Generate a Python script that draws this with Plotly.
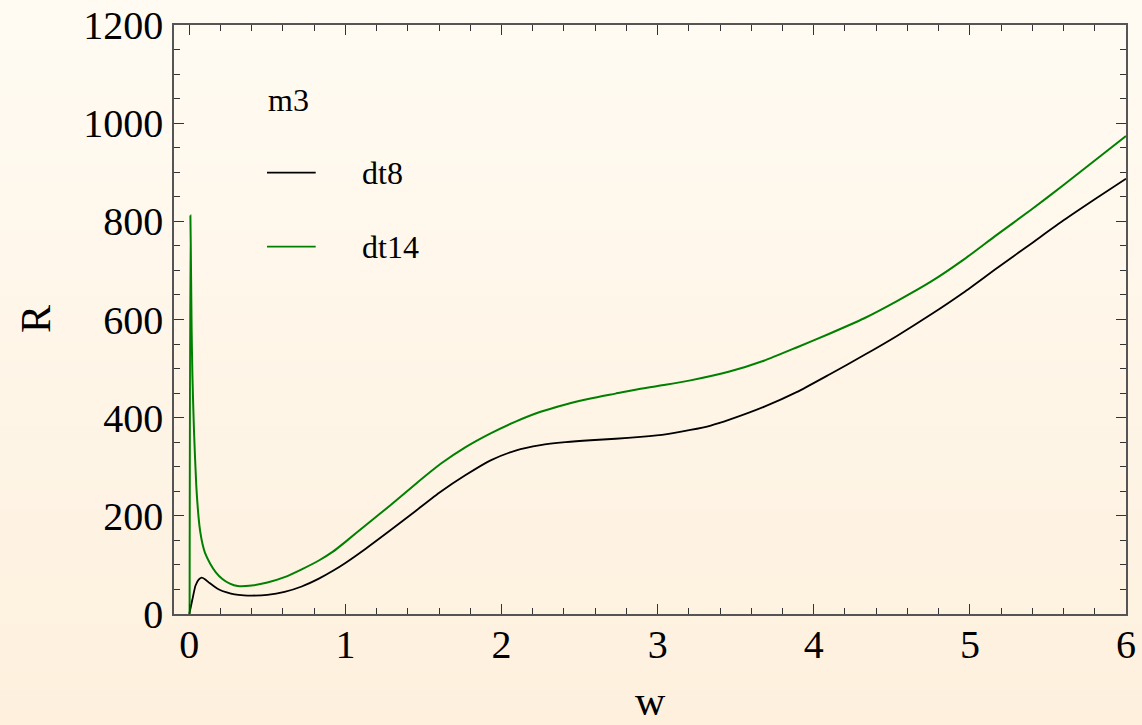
import base64, struct, zlib
import plotly.graph_objects as go

# ---------------- data ----------------
w_dt8 = [0, 0.02, 0.04, 0.06, 0.079, 0.1, 0.13, 0.16, 0.19, 0.24, 0.29, 0.35, 0.40, 0.5, 0.61,
         0.72, 0.83, 0.92, 1.0, 1.13, 1.29, 1.45, 1.61, 1.77, 1.93, 2.09, 2.25, 2.41, 2.57, 2.73,
         2.89, 3.05, 3.21, 3.34, 3.46, 3.68, 3.89, 4.1, 4.32, 4.53, 4.75, 4.96, 5.17, 5.39, 5.6,
         5.8, 6.0]
R_dt8 = [0, 30, 58, 70, 74, 71, 63, 56, 50, 44, 40, 38, 37.5, 39, 45,
         56, 72, 88, 104, 133, 171, 210, 249, 283, 313, 333, 344, 350, 354, 357,
         361, 366, 375, 384, 396, 422, 452, 488, 527, 566, 610, 655, 704, 754, 802,
         845, 887]

w_dt14 = [0.002, 0.007, 0.011, 0.015, 0.02, 0.03, 0.045, 0.06, 0.069, 0.085, 0.1, 0.133, 0.17,
          0.21, 0.26, 0.31, 0.4, 0.5, 0.61, 0.72, 0.83, 0.92, 1.0, 1.13, 1.29, 1.45, 1.61, 1.77,
          1.93, 2.09, 2.25, 2.41, 2.57, 2.73, 2.89, 3.05, 3.21, 3.46, 3.68, 3.89, 4.1, 4.32, 4.53,
          4.75, 4.96, 5.17, 5.39, 5.6, 5.8, 6.0]
R_dt14 = [0, 812, 700, 578, 485, 374, 260, 195, 170, 142, 125, 103, 85,
          72, 62, 57, 58, 64, 75, 91, 109, 127, 147, 181, 222, 265, 306, 340,
          368, 392, 412, 427, 439, 449, 459, 467, 476, 494, 516, 543, 571, 602, 637,
          677, 722, 772, 823, 874, 924, 974]

series_names = ["dt8", "dt14"]
series_colors = ["black", "#008000"]
legend_title = "m3"
x_label = "w"
y_label = "R"

# ---------------- background gradient image ----------------
def gradient_png(h, top, bot, w=2):
    raw = b""
    for i in range(h):
        t = i / (h - 1)
        px = bytes(int(round(top[k] + (bot[k] - top[k]) * t)) for k in range(3))
        raw += b"\x00" + px * w
    def chunk(tag, data):
        c = tag + data
        return struct.pack(">I", len(data)) + c + struct.pack(">I", zlib.crc32(c) & 0xffffffff)
    png = b"\x89PNG\r\n\x1a\n"
    png += chunk(b"IHDR", struct.pack(">IIBBBBB", w, h, 8, 2, 0, 0, 0))
    png += chunk(b"IDAT", zlib.compress(raw, 9))
    png += chunk(b"IEND", b"")
    return "data:image/png;base64," + base64.b64encode(png).decode()

bg = gradient_png(256, (255, 251, 243), (254, 240, 221))

W, H = 1142, 725
ML, MR, MT, MB = 174, 16, 25, 111
PW, PH = W - ML - MR, H - MT - MB

def px_x(p):  # pixel -> paper
    return (p - ML) / PW

def px_y(p):
    return 1 - (p - MT) / PH

FONT = "Liberation Serif, Times New Roman, serif"

fig = go.Figure()
fig.add_trace(go.Scatter(x=w_dt8, y=R_dt8, mode="lines", name=series_names[0],
                         line=dict(color=series_colors[0], width=1.8, shape="spline", smoothing=0.6)))
fig.add_trace(go.Scatter(x=w_dt14, y=R_dt14, mode="lines", name=series_names[1],
                         line=dict(color=series_colors[1], width=2, shape="spline", smoothing=0.6)))

axis_common = dict(
    showgrid=False, zeroline=False, showline=True, linecolor="#555555", linewidth=1.5,
    mirror="allticks", ticks="inside", ticklen=10, tickwidth=1.2, tickcolor="#333333",
    tickfont=dict(family=FONT, size=40, color="black"), automargin=False,
)
fig.update_xaxes(range=[-0.098, 6.0], dtick=1, tick0=0,
                 minor=dict(ticks="inside", dtick=0.2, tick0=0, ticklen=6, tickcolor="#333333", tickwidth=1),
                 ticklabelstandoff=-6, **axis_common)
fig.update_yaxes(range=[0, 1200], dtick=200, tick0=0,
                 minor=dict(ticks="inside", dtick=50, tick0=0, ticklen=6, tickcolor="#333333", tickwidth=1),
                 ticklabelstandoff=1, **axis_common)

# manual legend (key lines + labels)
shapes = []
annotations = [
    dict(text=legend_title, xref="paper", yref="paper", x=px_x(266), y=px_y(100),
         showarrow=False, font=dict(family=FONT, size=32), xanchor="left", yanchor="middle"),
]
for i, (nm, col) in enumerate(zip(series_names, series_colors)):
    yc = 172.7 + i * 74
    shapes.append(dict(type="line", xref="paper", yref="paper", x0=px_x(267), x1=px_x(315.7),
                       y0=px_y(yc), y1=px_y(yc), line=dict(color=col, width=1.8)))
    annotations.append(dict(text=nm, xref="paper", yref="paper", x=px_x(360), y=px_y(yc + 0.5),
                            showarrow=False, font=dict(family=FONT, size=32),
                            xanchor="left", yanchor="middle"))

annotations += [
    dict(text=x_label, xref="paper", yref="paper", x=px_x(650), y=px_y(726),
         showarrow=False, font=dict(family=FONT, size=42), xanchor="center", yanchor="bottom"),
    dict(text=y_label, xref="paper", yref="paper", x=px_x(36), y=px_y(319),
         showarrow=False, textangle=-90, font=dict(family=FONT, size=42),
         xanchor="center", yanchor="middle"),
]

fig.update_layout(
    template="none",
    width=W, height=H, autosize=False,
    margin=dict(l=ML, r=MR, t=MT, b=MB, pad=0, autoexpand=False),
    paper_bgcolor="rgba(0,0,0,0)", plot_bgcolor="rgba(0,0,0,0)",
    font=dict(family=FONT, color="black"),
    showlegend=False,
    shapes=shapes,
    annotations=annotations,
    images=[dict(source=bg, xref="paper", yref="paper",
                 x=-ML / PW, y=1 + MT / PH, sizex=W / PW, sizey=H / PH,
                 xanchor="left", yanchor="top", sizing="stretch", layer="below")],
)

fig.write_html("out.html", post_script="document.body.style.margin='0';document.body.style.background='#fff3e3';")
